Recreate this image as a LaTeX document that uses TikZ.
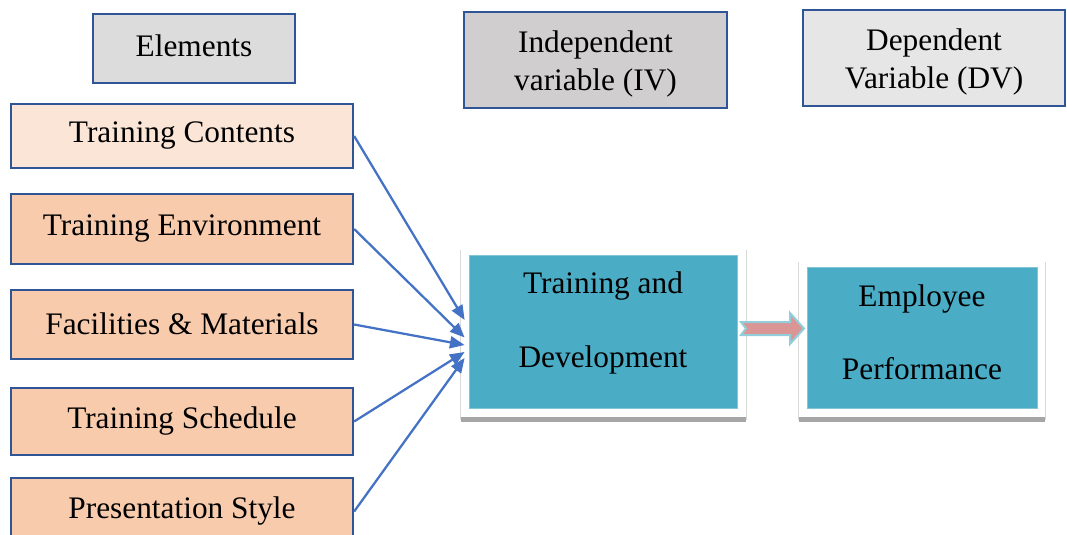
\documentclass[tikz,border=0pt]{standalone}
\usepackage{fontspec}
\setmainfont{Liberation Serif}
\usetikzlibrary{arrows.meta,calc}
\definecolor{boxblue}{HTML}{2F5597}
\definecolor{peachlight}{HTML}{FBE5D6}
\definecolor{peach}{HTML}{F8CBAD}
\definecolor{grayA}{HTML}{DCDCDC}
\definecolor{grayB}{HTML}{D0CECE}
\definecolor{grayC}{HTML}{E7E6E6}
\definecolor{tealc}{HTML}{4BACC6}
\definecolor{arrowblue}{HTML}{4472C4}
\definecolor{pinkarrow}{HTML}{DA9694}
\definecolor{lightblue}{HTML}{92CDDC}
\definecolor{framegray}{HTML}{D9D9D9}
\definecolor{shadowgray}{HTML}{A6A6A6}
\begin{document}
\begin{tikzpicture}[x=0.75pt,y=-0.75pt,
  hdr/.style={draw=boxblue, line width=1.7pt, inner sep=0pt},
  hdrtext/.style={align=center, inner sep=0pt, font=\fontsize{23.5}{28}\selectfont},
  elem/.style={draw=boxblue, line width=1.7pt, fill=peach, inner sep=0pt,
    minimum width=256.5pt, font=\fontsize{23.5}{28}\selectfont},
  tealbox/.style={fill=tealc, draw=tealc!70!white, line width=0.6pt, inner sep=0pt},
  frame/.style={inner sep=0pt},
  boxtext/.style={align=center, inner sep=0pt, font=\fontsize{23.5}{55}\selectfont},
  conn/.style={draw=arrowblue, line width=1.7pt, -{Triangle[length=11pt,width=9pt]}}
]
\useasboundingbox (0,0) rectangle (1067,535);

% header boxes
\node[hdr, fill=grayA, minimum width=151.5pt, minimum height=51.75pt] (elh) at (194,48.5) {};
\node[hdrtext] (elht) at (194,46) {Elements};
\node[hdr, fill=grayB, minimum width=197.25pt, minimum height=72pt] (ivh) at (595.5,60) {};
\node[hdrtext] (ivht) at (595.5,64) {Independent\\variable (IV)};
\node[hdr, fill=grayC, minimum width=196.5pt, minimum height=72pt] (dvh) at (934,58) {};
\node[hdrtext] (dvht) at (934,62) {Dependent\\Variable (DV)};

% element boxes
\node[elem, fill=peachlight, minimum height=48pt] (tc) at (182,136) {\raisebox{-1.5pt}{Training Contents}};
\node[elem, minimum height=52.5pt] (te) at (182,229) {Training Environment};
\node[elem, minimum height=51.75pt] (fm) at (182,324.5) {\raisebox{2pt}{Facilities \& Materials}};
\node[elem, minimum height=50.25pt] (ts) at (182,421.5) {Training Schedule};
\node[elem, minimum height=50.25pt] (ps) at (182,511.5) {\raisebox{-1pt}{Presentation Style}};

% frames with shadow
\node[frame, minimum width=213.75pt, minimum height=127.5pt] (tdf) at (603.5,335) {};
\node[frame, minimum width=184.5pt, minimum height=118.5pt] (epf) at (922,341) {};
\foreach \f in {tdf,epf}{
  \draw[framegray, line width=0.8pt] (\f.north west) -- (\f.south west);
  \draw[framegray, line width=0.8pt] (\f.north east) -- (\f.south east);
  \fill[shadowgray] ($(\f.south west)+(0,-3)$) rectangle ($(\f.south east)+(0,2)$);
}

% teal boxes
\node[tealbox, minimum width=201pt, minimum height=114.75pt] (td) at (603,331.5) {};
\node[boxtext] (tdt) at (603,323) {Training and\\Development};
\node[tealbox, minimum width=172.5pt, minimum height=105.75pt] (ep) at (922,337.5) {};
\node[boxtext] (ept) at (922,332.5) {Employee\\Performance};

% arrow end points
\coordinate (e1) at ($(td.west)+(-4,-11.5)$);
\coordinate (e2) at ($(td.west)+(-4,6)$);
\coordinate (e3) at ($(td.west)+(-4,13.5)$);
\coordinate (e4) at ($(td.west)+(-4,20.5)$);
\coordinate (e5) at ($(td.west)+(-4,26.5)$);

\draw[conn] (tc.east) -- (e1);
\draw[conn] (te.east) -- (e2);
\draw[conn] (fm.east) -- (e3);
\draw[conn] (ts.east) -- (e4);
\draw[conn] (ps.east) -- (e5);

% block arrow between IV and DV
\draw[fill=pinkarrow, draw=lightblue, line width=1.5pt, line join=miter]
  (741,322) -- (790,322) -- (790,313) -- (804,328.5) -- (790,344) -- (790,335)
  -- (741,335) -- (746,328.5) -- cycle;
\end{tikzpicture}
\end{document}
